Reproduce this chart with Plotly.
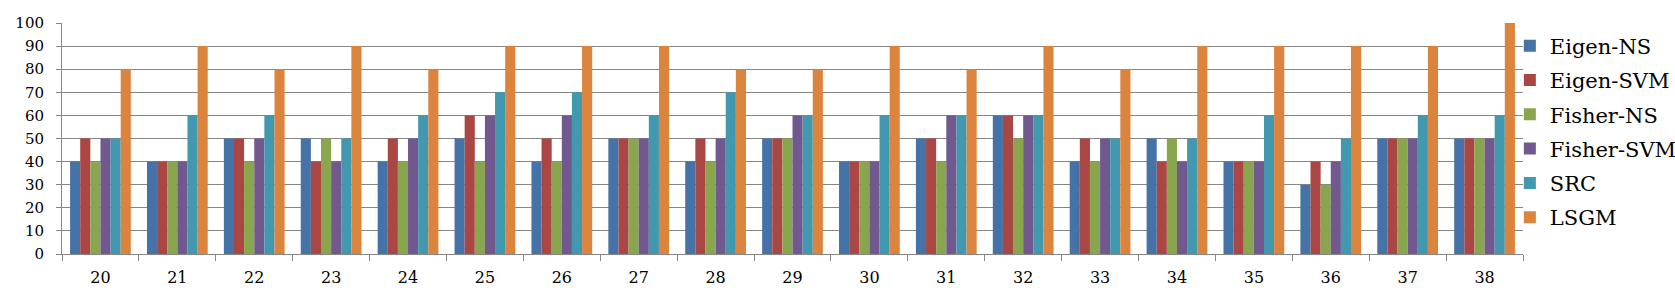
import plotly.graph_objects as go

categories = ["20", "21", "22", "23", "24", "25", "26", "27", "28", "29",
              "30", "31", "32", "33", "34", "35", "36", "37", "38"]
eigen_ns   = [40, 40, 50, 50, 40, 50, 40, 50, 40, 50, 40, 50, 60, 40, 50, 40, 30, 50, 50]
eigen_svm  = [50, 40, 50, 40, 50, 60, 50, 50, 50, 50, 40, 50, 60, 50, 40, 40, 40, 50, 50]
fisher_ns  = [40, 40, 40, 50, 40, 40, 40, 50, 40, 50, 40, 40, 50, 40, 50, 40, 30, 50, 50]
fisher_svm = [50, 40, 50, 40, 50, 60, 60, 50, 50, 60, 40, 60, 60, 50, 40, 40, 40, 50, 50]
src        = [50, 60, 60, 50, 60, 70, 70, 60, 70, 60, 60, 60, 60, 50, 50, 60, 50, 60, 60]
lsgm       = [80, 90, 80, 90, 80, 90, 90, 90, 80, 80, 90, 80, 90, 80, 90, 90, 90, 90, 100]
y_ticks = [0, 10, 20, 30, 40, 50, 60, 70, 80, 90, 100]

series = [
    ("Eigen-NS", eigen_ns, "#4572A7"),
    ("Eigen-SVM", eigen_svm, "#AA4643"),
    ("Fisher-NS", fisher_ns, "#89A54E"),
    ("Fisher-SVM", fisher_svm, "#71588F"),
    ("SRC", src, "#4198AF"),
    ("LSGM", lsgm, "#DB843D"),
]

fig = go.Figure()
for name, vals, color in series:
    fig.add_trace(go.Bar(x=categories, y=vals, name=name, legendgroup=name,
                         marker=dict(color=color, line=dict(width=0))))

font_family = "DejaVu Serif"
grid = "#868686"
fig.update_layout(
    template="none",
    width=1675, height=288, autosize=False,
    margin=dict(l=62, r=152, t=23, b=34, pad=0, autoexpand=False),
    paper_bgcolor="white", plot_bgcolor="white",
    barmode="group", bargap=0.21, bargroupgap=0,
    font=dict(family=font_family, color="black", size=18),
    legend=dict(x=0.991, xanchor="left", y=0.53, yanchor="middle",
                font=dict(size=21, family=font_family, color="black"),
                tracegroupgap=4, itemwidth=30, bgcolor="rgba(0,0,0,0)"),
    xaxis=dict(type="category", showline=True, linecolor=grid, linewidth=1,
               ticks="outside", tickson="boundaries", ticklen=6, tickcolor=grid,
               tickfont=dict(size=16, family=font_family, color="black"),
               showgrid=False, ticklabelstandoff=9),
    yaxis=dict(range=[0, 100], tickvals=y_ticks, showline=True, linecolor=grid,
               linewidth=1, ticks="outside", ticklen=5, tickcolor=grid,
               showgrid=True, gridcolor=grid, gridwidth=1, zeroline=False,
               tickfont=dict(size=15, family=font_family, color="black"),
               ticklabelstandoff=9),
)

fig.write_html(
    "out.html",
    config={"displayModeBar": False},
    post_script="document.body.style.margin='0';document.body.style.overflow='hidden';",
)
